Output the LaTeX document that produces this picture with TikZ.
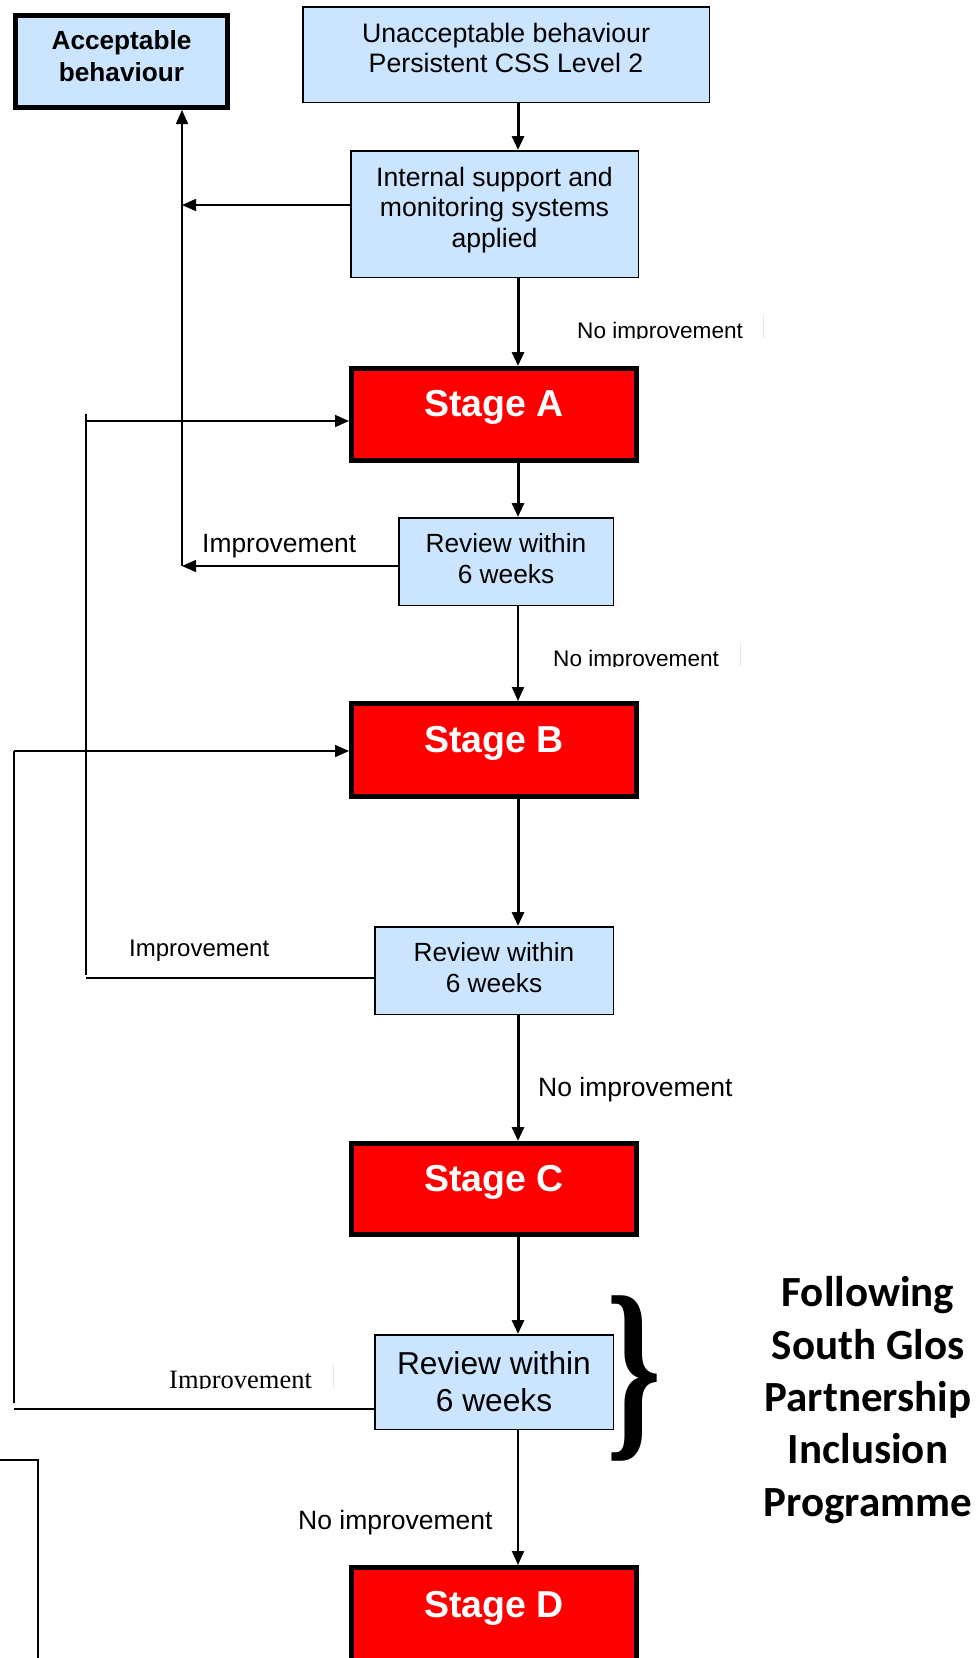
\documentclass[tikz,border=0pt]{standalone}
\usepackage{fontspec}
\setmainfont{Liberation Sans}
\newfontfamily\calib{Carlito}
\newfontfamily\tms{Liberation Serif}
\usetikzlibrary{arrows.meta,calc}
\definecolor{lblue}{HTML}{CCE5FF}
\definecolor{sred}{HTML}{FF0000}
\newcommand\liftby[1]{\\[-#1]\mbox{}}
\tikzset{
  bluebox/.style={draw=black, line width=1.5pt, fill=lblue, align=center, inner sep=0pt,
    font=\fontsize{26.3}{30.5}\selectfont},
  accbox/.style={draw=black, line width=5pt, fill=lblue, align=center, inner sep=0pt,
    font=\fontsize{26.2}{31.5}\selectfont\bfseries},
  stagebox/.style={draw=black, line width=5pt, fill=sred, text=white, inner sep=0pt,
    minimum width=285pt, font=\fontsize{37.5}{40}\selectfont\bfseries,
    text height=27pt, text depth=23pt},
  conn/.style={line width=3pt},
  midconn/.style={line width=2pt},
  thinconn/.style={line width=1.5pt},
  arr/.style={-{Triangle[length=14pt,width=12pt]}},
  lbl/.style={inner sep=0pt, anchor=base west, font=\fontsize{26.5}{30}\selectfont},
  smalllbl/.style={inner sep=0pt, anchor=base west, font=\fontsize{22.6}{26}\selectfont},
  faint/.style={draw=gray!20, line width=1pt},
}
\begin{document}
\begin{tikzpicture}[x=1pt,y=-1pt]
\useasboundingbox (0,0) rectangle (978,1658);
\clip (0,0) rectangle (978,1658);
\fill[white] (0,0) rectangle (978,1658);

% boxes
\node[accbox, minimum width=212pt, minimum height=92pt] (acc) at (121.5,61.5) {Acceptable\\behaviour\liftby{21pt}};
\node[bluebox, minimum width=406.5pt, minimum height=95.5pt, font=\fontsize{26.7}{30.5}\selectfont] (unacc) at (506,54.5) {Unacceptable behaviour\\Persistent CSS Level 2\liftby{17.5pt}};
\node[bluebox, minimum width=287.5pt, minimum height=126.5pt, font=\fontsize{26.6}{30.5}\selectfont] (internal) at (494.5,214) {Internal support and\\monitoring systems\\applied\liftby{16.5pt}};
\node[stagebox, minimum height=92pt] (sa) at (494,414.5) {Stage A};
\node[bluebox, minimum width=214.5pt, minimum height=87.5pt] (r1) at (506,561.5) {Review within\\6 weeks\liftby{24pt}};
\node[stagebox, minimum height=93pt] (sb) at (494,750) {Stage B};
\node[bluebox, minimum width=238.5pt, minimum height=87.5pt] (r2) at (494,970.5) {Review within\\6 weeks\liftby{24pt}};
\node[stagebox, minimum height=91pt] (sc) at (494,1189) {Stage C};
\node[bluebox, minimum width=238.5pt, minimum height=94.5pt, font=\fontsize{31.7}{37}\selectfont] (r3) at (494,1382) {Review within\\6 weeks};
\node[stagebox, minimum height=95pt] (sd) at (494,1615) {Stage D};

% spine
\coordinate (sp) at (518,0);
\draw[conn,arr] (unacc.south -| sp) -- (internal.north -| sp);
\draw[conn,arr] (internal.south -| sp) -- (sa.north -| sp);
\draw[conn,arr] (sa.south -| sp) -- (r1.north -| sp);
\draw[midconn,arr] (r1.south -| sp) -- (sb.north -| sp);
\draw[conn,arr] (sb.south -| sp) -- (r2.north -| sp);
\draw[conn,arr] (r2.south -| sp) -- (sc.north -| sp);
\draw[conn,arr] (sc.south -| sp) -- (r3.north -| sp);
\draw[midconn,arr] (r3.south -| sp) -- (sd.north -| sp);

% return to acceptable
\coordinate (accA) at (182,205);
\coordinate (accB) at (182,566);
\draw[thinconn,arr] (internal.west |- accA) -- (accA);
\draw[thinconn,arr] (r1.west |- accB) -- (accB);
\draw[thinconn,arr] (accB) -- (acc.south -| accB);

% loop back to stage A
\coordinate (la1) at (86,414);
\coordinate (la2) at (86,421);
\coordinate (la3) at (86,978);
\coordinate (la4) at (86,975);
\draw[thinconn] (la1) -- (la4);
\draw[thinconn,arr] (la2) -- (sa.west |- la2);
\draw[thinconn] (r2.west |- la3) -- (la3);

% loop back to stage B
\coordinate (lb1) at (14,751);
\coordinate (lb2) at (14,1403);
\coordinate (lb3) at (14,1409);
\draw[thinconn] (lb2) -- (lb1);
\draw[thinconn,arr] (lb1) -- (sb.west |- lb1);
\draw[thinconn] (r3.west |- lb3) -- (lb3);

% bottom-left fragment
\coordinate (bl1) at (0,1460);
\coordinate (bl2) at (38,1460);
\coordinate (bl3) at (38,1662);
\draw[thinconn] (bl1) -- (bl2) -- (bl3);

% labels
\begin{scope}
\clip (560,300) rectangle (800,338.5);
\node[smalllbl] (ni1) at (577,338) {No improvement};
\end{scope}
\draw[faint] (763,315) -- (763,338);
\begin{scope}
\clip (540,630) rectangle (780,666.5);
\node[smalllbl] (ni2) at (553,666) {No improvement};
\end{scope}
\draw[faint] (740,643) -- (740,666);
\node[lbl, font=\fontsize{26.4}{30}\selectfont] (im1) at (202,552) {Improvement};
\node[lbl] (ni3) at (538,1096) {No improvement};
\node[lbl, font=\fontsize{24}{28}\selectfont] (im2) at (129,956) {Improvement};
\begin{scope}
\clip (150,1350) rectangle (340,1388.5);
\node[lbl, font=\tms\fontsize{26.5}{30}\selectfont] (im3) at (169,1388) {Improvement};
\end{scope}
\draw[faint] (333,1365) -- (333,1388);
\node[lbl] (ni4) at (298,1529) {No improvement};

% brace
\node[inner sep=0pt] (brace) at (634,1378) {\scalebox{14}[20]{\tms\bfseries\fontsize{10}{10}\selectfont\}}};

% right text
\node[align=center, inner sep=0pt, font=\calib\bfseries\fontsize{43}{52.3}\selectfont] (prog) at (868,1400) {Following\\South Glos\\Partnership\\Inclusion\\Programme};
\end{tikzpicture}
\end{document}
